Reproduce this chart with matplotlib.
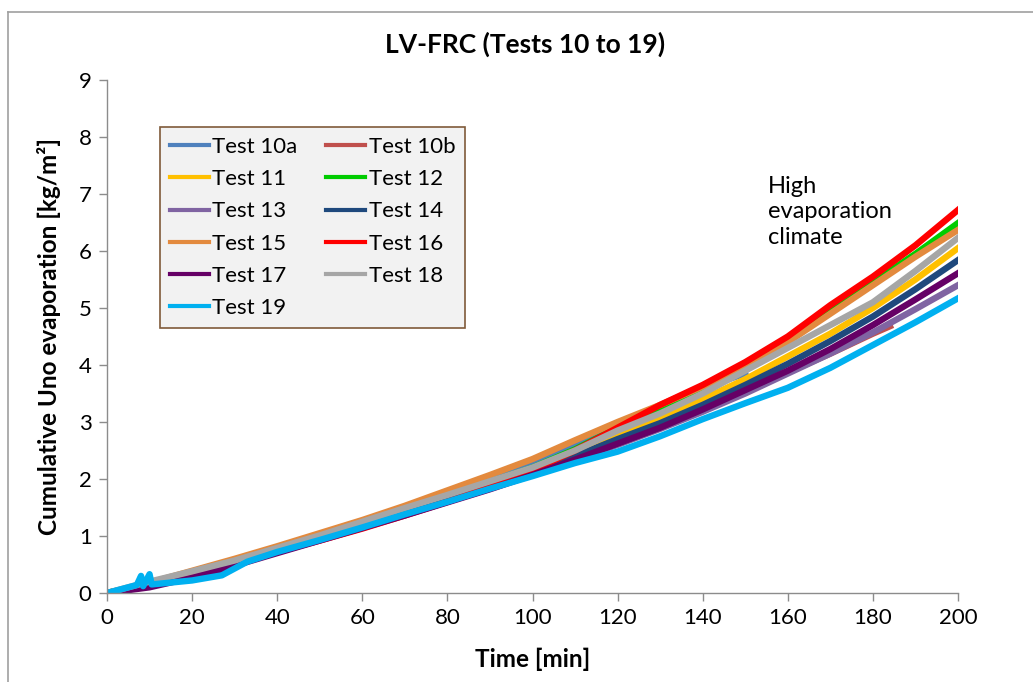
import matplotlib
matplotlib.use("Agg")
import matplotlib.pyplot as plt
from matplotlib.lines import Line2D

plt.rcParams['font.family'] = ['Lato', 'DejaVu Sans']

# ---- data ----
t_main = [0, 10, 20, 30, 40, 50, 60, 70, 80, 90, 100, 110, 120, 130, 140, 150, 160, 170, 180, 190, 200]

test10a_t = [0, 10, 20, 30, 40, 50, 60, 70, 80, 90, 100, 110, 120, 130, 140, 150]
test10a = [0, 0.17, 0.36, 0.56, 0.78, 1.0, 1.24, 1.47, 1.72, 1.98, 2.25, 2.58, 2.93, 3.27, 3.6, 3.85]

test10b_t = [0, 10, 20, 30, 40, 50, 60, 70, 80, 90, 100, 110, 120, 130, 140, 150, 160, 170, 180, 184]
test10b = [0, 0.15, 0.33, 0.52, 0.73, 0.94, 1.16, 1.38, 1.62, 1.86, 2.12, 2.4, 2.68, 2.96, 3.25, 3.55, 3.87, 4.2, 4.55, 4.68]

test11 = [0, 0.16, 0.35, 0.55, 0.76, 0.98, 1.21, 1.44, 1.68, 1.92, 2.17, 2.45, 2.75, 3.05, 3.4, 3.75, 4.15, 4.55, 5.0, 5.5, 6.05]
test12 = [0, 0.16, 0.35, 0.55, 0.77, 0.99, 1.22, 1.46, 1.7, 1.95, 2.2, 2.52, 2.9, 3.25, 3.6, 3.95, 4.45, 4.95, 5.45, 5.95, 6.49]
test13 = [0, 0.13, 0.31, 0.5, 0.72, 0.93, 1.15, 1.37, 1.6, 1.83, 2.08, 2.34, 2.6, 2.88, 3.18, 3.5, 3.85, 4.2, 4.57, 4.98, 5.4]
test14 = [0, 0.14, 0.33, 0.52, 0.74, 0.96, 1.18, 1.41, 1.64, 1.88, 2.12, 2.4, 2.7, 2.98, 3.3, 3.65, 4.02, 4.42, 4.85, 5.33, 5.84]
test15 = [0, 0.18, 0.39, 0.6, 0.82, 1.05, 1.28, 1.53, 1.8, 2.07, 2.35, 2.68, 3.0, 3.3, 3.62, 3.95, 4.4, 4.9, 5.4, 5.9, 6.37]
test16 = [0, 0.15, 0.33, 0.52, 0.72, 0.92, 1.13, 1.36, 1.6, 1.86, 2.15, 2.5, 2.9, 3.3, 3.65, 4.05, 4.5, 5.05, 5.55, 6.1, 6.72]
test17 = [0, 0.1, 0.27, 0.48, 0.7, 0.92, 1.14, 1.36, 1.59, 1.82, 2.07, 2.34, 2.62, 2.9, 3.22, 3.56, 3.9, 4.28, 4.7, 5.15, 5.61]
test18 = [0, 0.2, 0.38, 0.57, 0.79, 1.01, 1.25, 1.49, 1.72, 1.96, 2.2, 2.5, 2.85, 3.15, 3.5, 3.9, 4.3, 4.7, 5.1, 5.65, 6.23]

test19_t = [0, 7, 8, 8.5, 10, 10.5, 20, 27, 33, 40, 50, 60, 70, 80, 90, 100, 110, 120, 130, 140, 150, 160, 170, 180, 190, 200]
test19 = [0, 0.14, 0.3, 0.12, 0.33, 0.15, 0.22, 0.31, 0.55, 0.72, 0.93, 1.15, 1.38, 1.6, 1.83, 2.05, 2.28, 2.48, 2.75, 3.05, 3.33, 3.6, 3.95, 4.35, 4.75, 5.17]

labels = ['Test 10a', 'Test 10b', 'Test 11', 'Test 12', 'Test 13', 'Test 14',
          'Test 15', 'Test 16', 'Test 17', 'Test 18', 'Test 19']
colors = ['#4F81BD', '#C0504D', '#FFC000', '#00CC00', '#8064A2', '#1F497D',
          '#E38A3E', '#FF0000', '#660066', '#A6A6A6', '#00B0F0']

series = [
    (test10a_t, test10a), (test10b_t, test10b), (t_main, test11), (t_main, test12),
    (t_main, test13), (t_main, test14), (t_main, test15), (t_main, test16),
    (t_main, test17), (t_main, test18), (test19_t, test19),
]

fig = plt.figure(figsize=(10.33, 6.82), dpi=100)
ax = fig.add_axes([107/1033, 89/682, 851/1033, 513/682])

handles = []
for (tx, ty), lab, c in zip(series, labels, colors):
    ax.plot(tx, ty, color=c, lw=4.6, solid_joinstyle='round')
    handles.append(Line2D([0], [0], color=c, lw=3, label=lab))

ax.set_xlim(0, 200)
ax.set_ylim(0, 9)
ax.set_xticks(range(0, 201, 20))
ax.set_yticks(range(0, 10))
for s in ['top', 'right']:
    ax.spines[s].set_visible(False)
for s in ['left', 'bottom']:
    ax.spines[s].set_color('#8c8c8c')
    ax.spines[s].set_linewidth(1.0)
ax.tick_params(direction='out', length=6, width=1, color='#8c8c8c',
               labelsize=16, pad=5)

ax.set_xlabel('Time [min]', fontsize=17.5, fontweight='bold', labelpad=14)
ax.set_ylabel('Cumulative Uno evaporation [kg/m²]', fontsize=17.5, fontweight='bold', labelpad=13)
fig.text(525/1033, 1 - 44/682, 'LV-FRC (Tests 10 to 19)', fontsize=19,
         fontweight='bold', ha='center', va='center')

fig.text(768/1033, 1 - 176/682, 'High\nevaporation\nclimate', fontsize=17,
         ha='left', va='top', linespacing=1.25)

order = [0, 2, 4, 6, 8, 10, 1, 3, 5, 7, 9]
leg = ax.legend([handles[i] for i in order], [labels[i] for i in order], ncol=2,
                loc='upper left', bbox_to_anchor=((160-107)/851, (593-127)/513),
                borderaxespad=0, fontsize=16, frameon=True, fancybox=False,
                handlelength=1.75, handletextpad=0.15, columnspacing=1.3,
                labelspacing=0.55, borderpad=0.45)
leg.get_frame().set_facecolor('#F2F2F2')
leg.get_frame().set_edgecolor('#7F5A3A')
leg.get_frame().set_linewidth(1.2)
leg.get_frame().set_alpha(1)

# outer chart border
fig.add_artist(Line2D([8/1033, 8/1033], [0, 1 - 12/682], color='#a0a0a0', lw=1.2,
                      transform=fig.transFigure))
fig.add_artist(Line2D([8/1033, 1], [1 - 12/682, 1 - 12/682], color='#a0a0a0', lw=1.2,
                      transform=fig.transFigure))

fig.savefig('out.png', dpi=100)
